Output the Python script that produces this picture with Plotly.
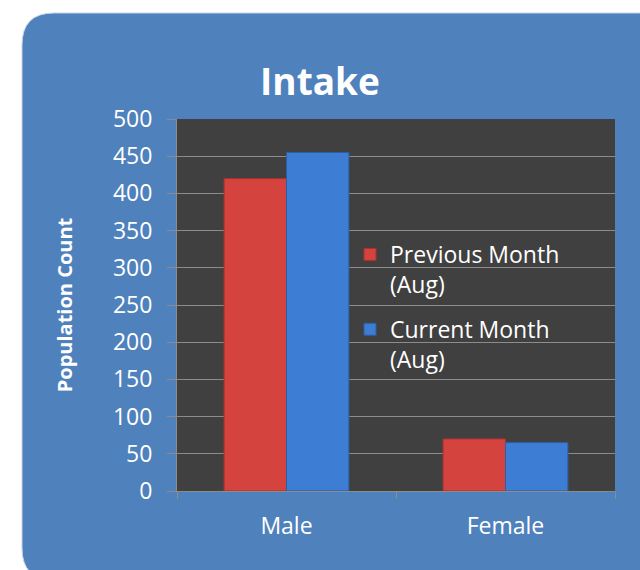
import plotly.graph_objects as go

categories = ["Male", "Female"]
previous_month = [420, 70]
current_month = [455, 65]
series_names = ["Previous Month<br>(Aug)", "Current Month<br>(Aug)"]
y_ticks = [0, 50, 100, 150, 200, 250, 300, 350, 400, 450, 500]

W, H = 640, 570
L, R, T, B = 177, 615, 119, 491
PW, PH = R - L, B - T

def px(x):
    return (x - L) / PW

def py(y):
    return (B - y) / PH

def rounded_path(x0, y0, x1, y1, r):
    pts = []
    pts.append(f"M{px(x0 + r)},{py(y0)}")
    pts.append(f"L{px(x1 - r)},{py(y0)}")
    pts.append(f"Q{px(x1)},{py(y0)} {px(x1)},{py(y0 + r)}")
    pts.append(f"L{px(x1)},{py(y1 - r)}")
    pts.append(f"Q{px(x1)},{py(y1)} {px(x1 - r)},{py(y1)}")
    pts.append(f"L{px(x0 + r)},{py(y1)}")
    pts.append(f"Q{px(x0)},{py(y1)} {px(x0)},{py(y1 - r)}")
    pts.append(f"L{px(x0)},{py(y0 + r)}")
    pts.append(f"Q{px(x0)},{py(y0)} {px(x0 + r)},{py(y0)}")
    pts.append("Z")
    return " ".join(pts)

FONT = "Open Sans, Lato, sans-serif"
GRID = "#8c8c8c"

fig = go.Figure()
fig.add_trace(go.Bar(
    x=categories, y=previous_month, name=series_names[0],
    marker=dict(color="#D4433E", line=dict(color="#A9322E", width=1)),
    legendgroup="a",
))
fig.add_trace(go.Bar(
    x=categories, y=current_month, name=series_names[1],
    marker=dict(color="#3D7DD3", line=dict(color="#2D5FA5", width=1)),
    legendgroup="b",
))

fig.update_layout(
    width=W, height=H,
    margin=dict(l=L, r=W - R, t=T, b=H - B, pad=0),
    paper_bgcolor="white",
    plot_bgcolor="#404040",
    barmode="group",
    bargap=0.43,
    bargroupgap=0.0,
    font=dict(family=FONT, color="white", size=23),
    title=dict(text="<b>Intake</b>", x=0.5, xanchor="center", y=1 - 82 / H, yanchor="middle",
               font=dict(family=FONT, size=37, color="white")),
    legend=dict(
        x=px(350), y=py(233), xanchor="left", yanchor="top",
        bgcolor="rgba(0,0,0,0)", font=dict(family=FONT, size=23, color="white"),
        tracegroupgap=12, traceorder="grouped", valign="top",
    ),
    shapes=[
        dict(type="path", xref="paper", yref="paper", layer="below",
             path=rounded_path(22, 13, 690, 580, 32),
             fillcolor="#4F81BD", line=dict(color="#c8d4e6", width=1)),
        dict(type="rect", xref="paper", yref="paper", layer="below",
             x0=0, x1=1, y0=0, y1=1, fillcolor="#404040", line=dict(width=0)),
    ],
)

fig.update_yaxes(
    range=[0, 500], tickvals=y_ticks, showgrid=True, gridcolor=GRID, gridwidth=1,
    ticks="outside", ticklen=9, tickcolor=GRID, showline=True, linecolor=GRID,
    tickfont=dict(family=FONT, size=23, color="white"), zeroline=False,
    ticklabelstandoff=10,
    title=dict(text="<b>Population Count</b>", font=dict(family=FONT, size=20, color="white"),
               standoff=34),
)
fig.update_xaxes(
    tickson="boundaries", ticks="outside", ticklen=7, tickcolor=GRID,
    showline=True, linecolor=GRID, showgrid=False,
    tickfont=dict(family=FONT, size=23, color="white"),
    ticklabelstandoff=14,
)

fig.write_html("out.html", config={"displayModeBar": False},
               post_script="document.body.style.margin='0px';")
